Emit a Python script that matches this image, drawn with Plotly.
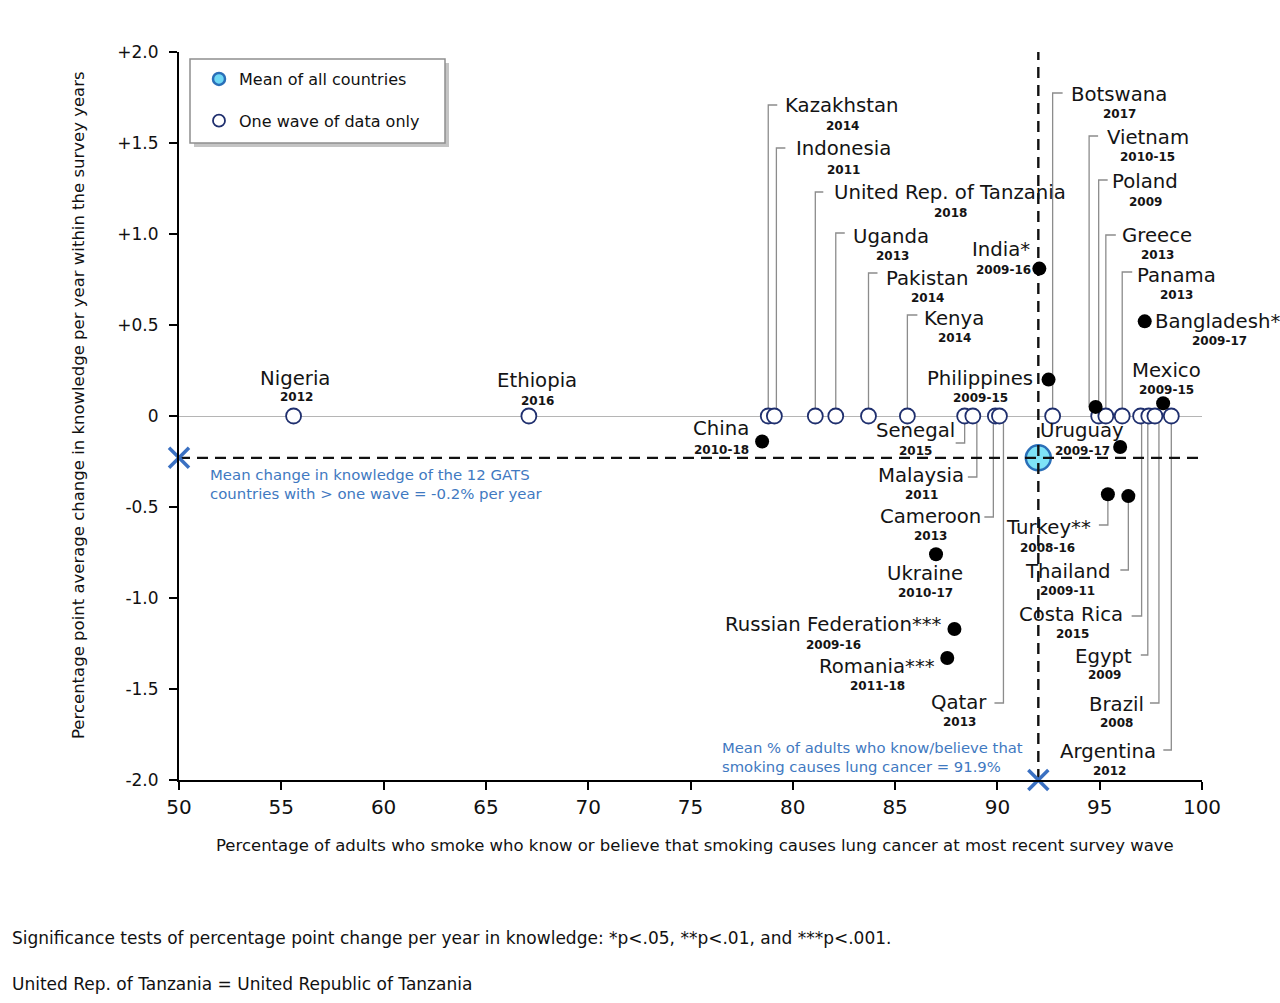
import plotly.graph_objects as go

# ------------------------------------------------------------------ data
one_wave_countries = ["Nigeria", "Ethiopia", "Kazakhstan", "Indonesia", "United Rep. of Tanzania",
                      "Uganda", "Pakistan", "Kenya", "Senegal", "Malaysia", "Cameroon", "Qatar",
                      "Botswana", "Poland", "Greece", "Panama", "Costa Rica", "Egypt", "Brazil",
                      "Argentina"]
one_wave_years = ["2012", "2016", "2014", "2011", "2018", "2013", "2014", "2014", "2015", "2011",
                  "2013", "2013", "2017", "2009", "2013", "2013", "2015", "2009", "2008", "2012"]
one_wave_knowledge = [55.6, 67.1, 78.8, 79.1, 81.1, 82.1, 83.7, 85.6, 88.4, 88.8, 89.9, 90.1,
                      92.7, 94.95, 95.3, 96.1, 97.0, 97.4, 97.7, 98.5]
one_wave_change = [0.0, 0.0, 0.0, 0.0, 0.0, 0.0, 0.0, 0.0, 0.0, 0.0, 0.0, 0.0,
                   0.0, 0.0, 0.0, 0.0, 0.0, 0.0, 0.0, 0.0]

multi_countries = ["China", "India*", "Philippines", "Vietnam", "Bangladesh*", "Mexico", "Uruguay",
                   "Turkey**", "Thailand", "Ukraine", "Russian Federation***", "Romania***"]
multi_years = ["2010-18", "2009-16", "2009-15", "2010-15", "2009-17", "2009-15", "2009-17",
               "2008-16", "2009-11", "2010-17", "2009-16", "2011-18"]
multi_knowledge = [78.5, 92.05, 92.5, 94.8, 97.2, 98.1, 96.0, 95.4, 96.4, 87.0, 87.9, 87.55]
multi_change = [-0.14, 0.81, 0.20, 0.05, 0.52, 0.07, -0.17, -0.43, -0.44, -0.76, -1.17, -1.33]

mean_knowledge = 92.0
mean_change = -0.23

x_ticks = [50, 55, 60, 65, 70, 75, 80, 85, 90, 95, 100]
y_ticks = [-2.0, -1.5, -1.0, -0.5, 0.0, 0.5, 1.0, 1.5, 2.0]
y_tick_labels = ["-2.0", "-1.5", "-1.0", "-0.5", "0", "+0.5", "+1.0", "+1.5", "+2.0"]

# ------------------------------------------------------------------ layout geometry
FONT = "DejaVu Sans"
OFF = 0                      # page body margin (removed below)
W, H = 1280, 1003
ML, MR, MT, MB = 179, 78, 52, 223
X_RANGE = [50, 100]
Y_RANGE = [-2, 2]
PW = W - ML - MR
PH = H - MT - MB


def px_y(py):
    return Y_RANGE[1] - (py - OFF - MT) / PH * (Y_RANGE[1] - Y_RANGE[0])


def dpx(d):
    return d / PW * (X_RANGE[1] - X_RANGE[0])


def paper_x(px):
    return (px - OFF - ML) / PW


def paper_y(py):
    return (H - MB - (py - OFF)) / PH


# label placement (page pixels): name centre x, name centre y, year centre x, year centre y
LABEL_PX = {
    "Nigeria": (295, 378, 296, 397),
    "Ethiopia": (537, 381, 537, 401),
    "Kazakhstan": (841, 106, 842, 126),
    "Indonesia": (843, 149, 843, 170),
    "United Rep. of Tanzania": (950, 193, 950, 213),
    "Uganda": (891, 236, 892, 256),
    "Pakistan": (927, 278, 927, 298),
    "Kenya": (954, 318, 954, 338),
    "Senegal": (915, 431, 915, 451),
    "Malaysia": (921, 476, 921, 495),
    "Cameroon": (930, 516, 930, 536),
    "Qatar": (959, 702, 959, 722),
    "Botswana": (1119, 94, 1119, 114),
    "Poland": (1145, 181, 1145, 202),
    "Greece": (1157, 235, 1157, 255),
    "Panama": (1176, 275, 1176, 295),
    "Costa Rica": (1071, 614, 1072, 634),
    "Egypt": (1103, 656, 1104, 675),
    "Brazil": (1116, 704, 1116, 723),
    "Argentina": (1108, 751, 1109, 771),
    "China": (721, 429, 721, 450),
    "India*": (1001, 249, 1003, 270),
    "Philippines": (980, 379, 980, 398),
    "Vietnam": (1148, 137, 1147, 157),
    "Bangladesh*": (1217, 321, 1219, 341),
    "Mexico": (1166, 370, 1166, 390),
    "Uruguay": (1082, 431, 1082, 451),
    "Turkey**": (1048, 527, 1047, 548),
    "Thailand": (1068, 571, 1067, 591),
    "Ukraine": (925, 573, 925, 593),
    "Russian Federation***": (833, 624, 833, 645),
    "Romania***": (877, 666, 877, 686),
}

# connectors (page pixels): x offset of vertical from point, elbow y, horizontal length (signed)
CONNECT_PX = {
    "Kazakhstan": (0, 105, 9),
    "Indonesia": (2, 148, 9),
    "United Rep. of Tanzania": (0, 192, 8),
    "Uganda": (0, 233, 9),
    "Pakistan": (0, 273, 9),
    "Kenya": (0, 315, 10),
    "Botswana": (0, 93, 10),
    "Vietnam": (-6.5, 136, 9),
    "Poland": (0, 180, 9),
    "Greece": (0, 235, 10),
    "Panama": (0, 272, 10),
    "Senegal": (0, 443, -9),
    "Malaysia": (4, 477, -9),
    "Cameroon": (-2, 517, -9),
    "Qatar": (4, 703, -9),
    "Turkey**": (0, 525, -9),
    "Thailand": (0, 570, -8),
    "Costa Rica": (1, 616, -10),
    "Egypt": (-1, 655, -7),
    "Brazil": (4, 703, -9),
    "Argentina": (0, 750, -8),
}

# ------------------------------------------------------------------ figure
fig = go.Figure()

all_names = one_wave_countries + multi_countries
all_years = one_wave_years + multi_years
all_x = one_wave_knowledge + multi_knowledge
all_y = one_wave_change + multi_change
point_of = {n: (x, y) for n, x, y in zip(all_names, all_x, all_y)}

# connectors
cx_, cy_ = [], []
for name, (off, ey, hl) in CONNECT_PX.items():
    x0, y0 = point_of[name]
    xl = x0 + dpx(off)
    cx_ += [xl, xl, xl + dpx(hl), None]
    cy_ += [y0, px_y(ey), px_y(ey), None]
fig.add_trace(go.Scatter(x=cx_, y=cy_, mode="lines", line=dict(color="#8c8c8c", width=1.3),
                         hoverinfo="skip", showlegend=False))

# mean marker
fig.add_trace(go.Scatter(x=[mean_knowledge], y=[mean_change], mode="markers",
                         marker=dict(size=25, color="#7EE3F7", line=dict(color="#2A6FB8", width=2.5)),
                         showlegend=False, hoverinfo="skip"))

# dashed mean lines
fig.add_trace(go.Scatter(x=[mean_knowledge, mean_knowledge, None, X_RANGE[0], X_RANGE[1]],
                         y=[Y_RANGE[0], Y_RANGE[1], None, mean_change, mean_change],
                         mode="lines", line=dict(color="#111111", width=2.4, dash="11px,7px"),
                         showlegend=False, hoverinfo="skip"))

# one-wave countries
fig.add_trace(go.Scatter(x=one_wave_knowledge, y=one_wave_change, mode="markers",
                         marker=dict(size=15, color="white", line=dict(color="#1F2F6E", width=1.8)),
                         showlegend=False, text=one_wave_countries, hoverinfo="text+x"))

# multi-wave countries
fig.add_trace(go.Scatter(x=multi_knowledge, y=multi_change, mode="markers",
                         marker=dict(size=14, color="#000000"),
                         showlegend=False, text=multi_countries, hoverinfo="text+x+y"))

# blue X marks on the axes
fig.add_trace(go.Scatter(x=[X_RANGE[0], mean_knowledge], y=[mean_change, Y_RANGE[0]], mode="markers",
                         marker=dict(symbol="x-thin", size=20, line=dict(color="#3A70C2", width=3.5)),
                         cliponaxis=False, showlegend=False, hoverinfo="skip"))

# legend entries
fig.add_trace(go.Scatter(x=[None], y=[None], mode="markers", name="Mean of all countries",
                         legendgroup="a",
                         marker=dict(size=12, color="#6FD8F5", line=dict(color="#2A6FB8", width=2.5))))
fig.add_trace(go.Scatter(x=[None], y=[None], mode="markers", name="One wave of data only",
                         legendgroup="b",
                         marker=dict(size=12, color="white", line=dict(color="#1F2F6E", width=1.8))))

# ------------------------------------------------------------------ annotations
ann = []
for name, yr in zip(all_names, all_years):
    ncx, ncy, ycx, ycy = LABEL_PX[name]
    ann.append(dict(xref="paper", yref="paper", x=paper_x(ncx), y=paper_y(ncy), text=name,
                    showarrow=False, xanchor="center", yanchor="middle",
                    font=dict(family=FONT, size=19.7, color="#141414")))
    ann.append(dict(xref="paper", yref="paper", x=paper_x(ycx), y=paper_y(ycy),
                    text="<b>" + yr + "</b>", showarrow=False, xanchor="center", yanchor="middle",
                    font=dict(family=FONT, size=12, color="#141414")))

BLUE = "#3F79C1"
ann.append(dict(xref="paper", yref="paper", x=paper_x(208), y=paper_y(484), xanchor="left",
                yanchor="middle", align="left", showarrow=False,
                text="Mean change in knowledge of the 12 GATS<br>countries with &gt; one wave = -0.2% per year",
                font=dict(family=FONT, size=14.9, color=BLUE)))
ann.append(dict(xref="paper", yref="paper", x=paper_x(720), y=paper_y(757), xanchor="left",
                yanchor="middle", align="left", showarrow=False,
                text="Mean % of adults who know/believe that<br>smoking causes lung cancer = 91.9%",
                font=dict(family=FONT, size=14.8, color=BLUE)))

ann.append(dict(xref="paper", yref="paper", x=paper_x(78), y=paper_y(405), textangle=-90,
                xanchor="center", yanchor="middle", showarrow=False,
                text="Percentage point average change in knowledge per year within the survey years",
                font=dict(family=FONT, size=16.5, color="#111111")))
ann.append(dict(xref="paper", yref="paper", x=paper_x(695), y=paper_y(846),
                xanchor="center", yanchor="middle", showarrow=False,
                text="Percentage of adults who smoke who know or believe that smoking causes lung cancer at most recent survey wave",
                font=dict(family=FONT, size=16.5, color="#111111")))

ann.append(dict(xref="paper", yref="paper", x=paper_x(10), y=paper_y(938),
                xanchor="left", yanchor="middle", showarrow=False,
                text="Significance tests of percentage point change per year in knowledge: *p&lt;.05, **p&lt;.01, and ***p&lt;.001.",
                font=dict(family=FONT, size=17, color="#111111")))
ann.append(dict(xref="paper", yref="paper", x=paper_x(10), y=paper_y(984),
                xanchor="left", yanchor="middle", showarrow=False,
                text="United Rep. of Tanzania = United Republic of Tanzania",
                font=dict(family=FONT, size=17, color="#111111")))

# legend frame with shadow
shapes = [
    dict(type="rect", xref="paper", yref="paper", x0=paper_x(194), x1=paper_x(449),
         y0=paper_y(63), y1=paper_y(147), fillcolor="#c4c4c4", line=dict(width=0), layer="above"),
    dict(type="rect", xref="paper", yref="paper", x0=paper_x(190), x1=paper_x(445),
         y0=paper_y(59), y1=paper_y(143), fillcolor="white", line=dict(color="#8f8f8f", width=1.5),
         layer="above"),
]

fig.update_layout(
    width=W, height=H,
    margin=dict(l=ML, r=MR, t=MT, b=MB, autoexpand=False),
    paper_bgcolor="white", plot_bgcolor="white",
    font=dict(family=FONT, color="#111111"),
    showlegend=True,
    legend=dict(x=paper_x(199), y=paper_y(62), xanchor="left", yanchor="top",
                bgcolor="rgba(0,0,0,0)", borderwidth=0, tracegroupgap=18,
                font=dict(family=FONT, size=16, color="#111111")),
    xaxis=dict(range=X_RANGE, tickvals=x_ticks, showline=True, linecolor="black", linewidth=2,
               ticks="outside", ticklen=8, tickwidth=2, tickcolor="black", showgrid=False,
               zeroline=False, tickfont=dict(family=FONT, size=20, color="#111111")),
    yaxis=dict(range=Y_RANGE, tickvals=y_ticks, ticktext=y_tick_labels, showline=True,
               linecolor="black", linewidth=2, ticks="outside", ticklen=8, tickwidth=2,
               tickcolor="black", showgrid=False, zeroline=True, zerolinecolor="#b5b5b5",
               zerolinewidth=1.2, ticklabelstandoff=7,
               tickfont=dict(family=FONT, size=17, color="#111111")),
    annotations=ann,
    shapes=shapes,
)

fig.write_html("out.html", config={"displayModeBar": False},
               post_script="document.body.style.margin='0';document.body.style.overflow='hidden';")
